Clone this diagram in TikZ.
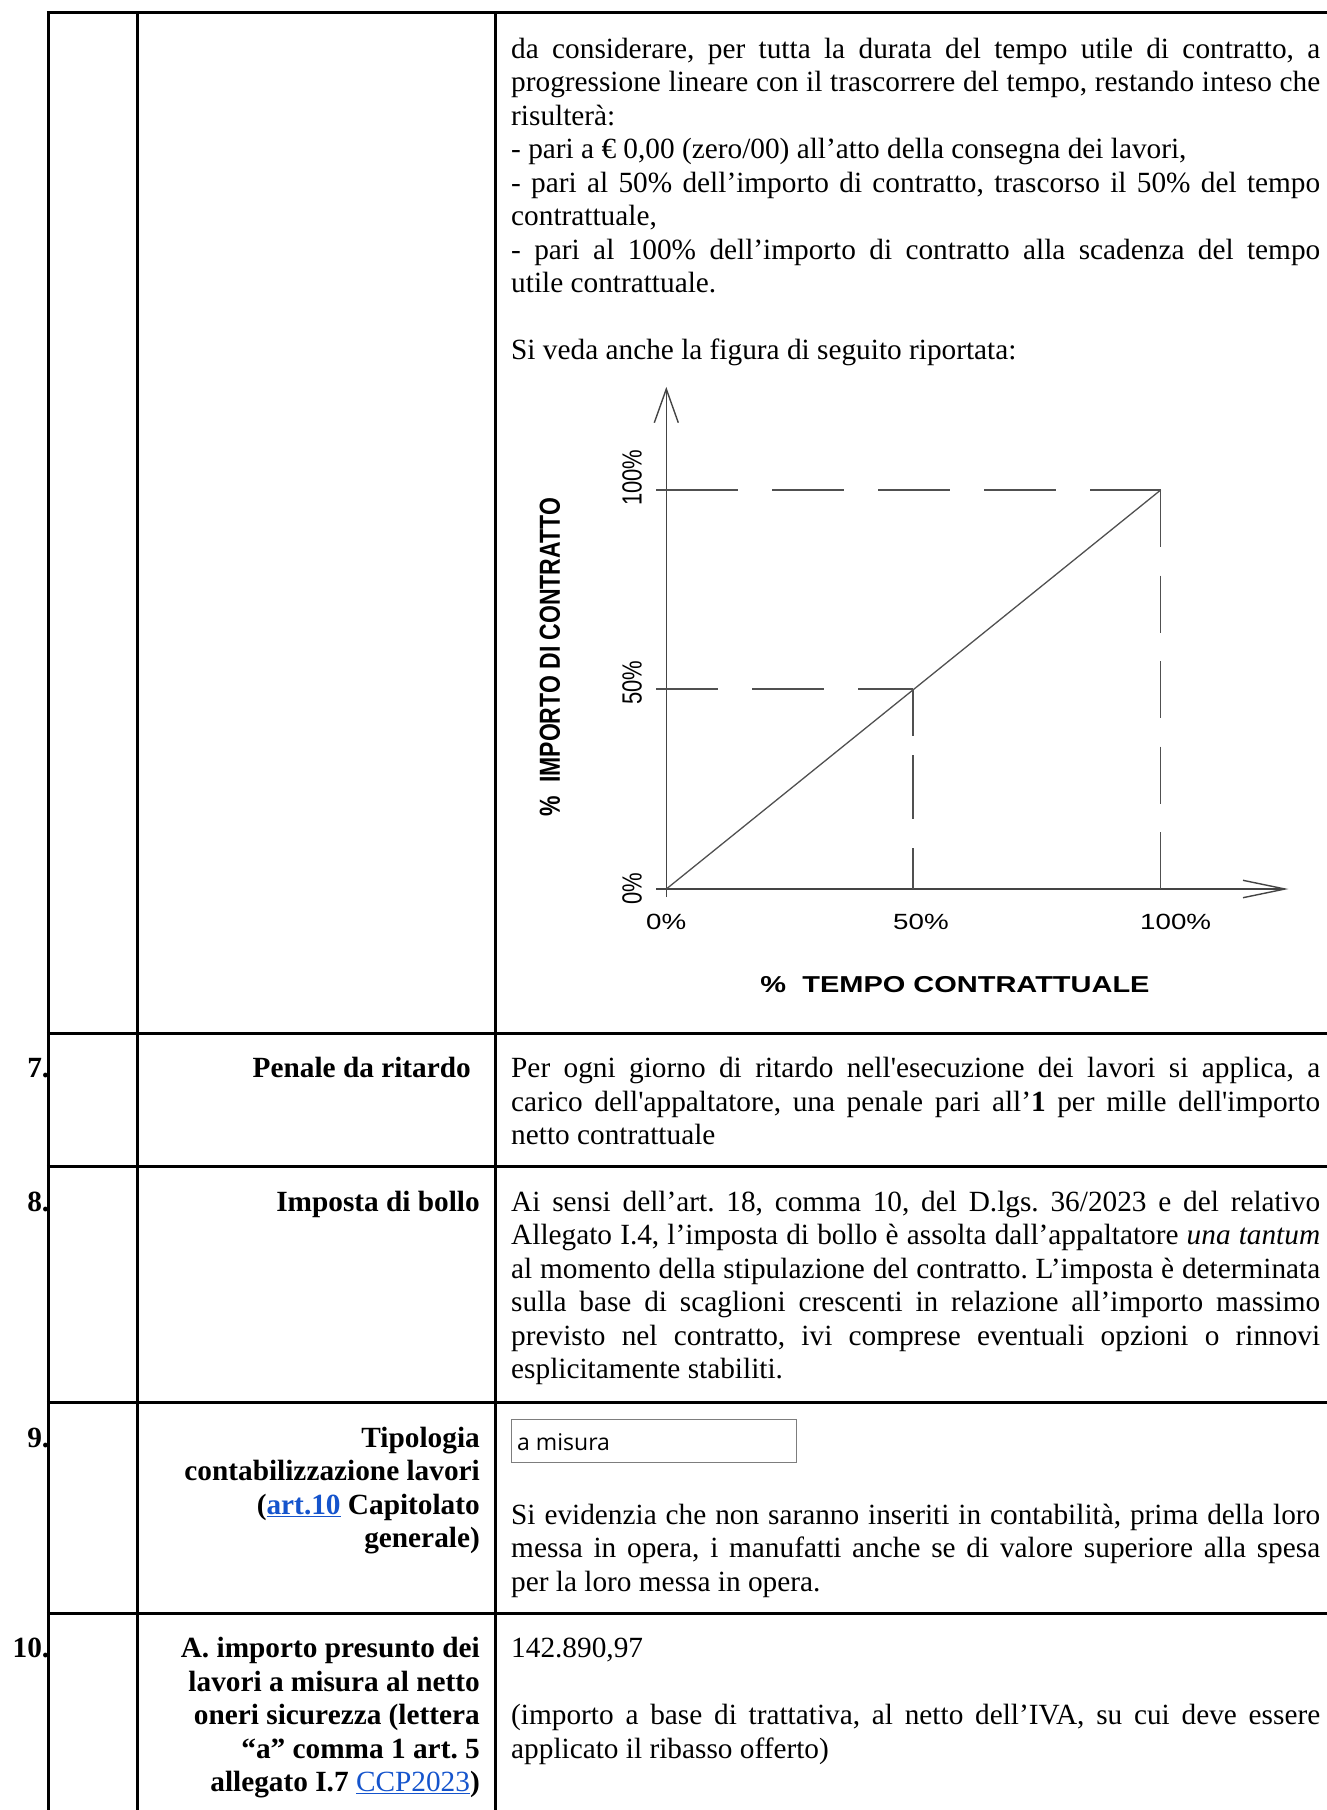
\documentclass[tikz,border=0pt]{standalone}
\usepackage{fontspec}
\usepackage{graphicx}
\setmainfont{Liberation Serif}[Ligatures=TeXOff]
\newfontfamily\chartfont{Liberation Sans}
\newfontfamily\boxfont{Open Sans}
\setlength{\parindent}{0pt}
\frenchspacing
\definecolor{linkblue}{RGB}{21,84,204}
\definecolor{chartline}{RGB}{80,80,80}
\definecolor{boxgray}{RGB}{125,125,125}
\newcommand{\mainfs}{\fontsize{29.3}{33.5}\selectfont}
\newcommand{\jl}[1]{\makebox[809pt][s]{#1}}
\newcommand{\lnk}[1]{\textcolor{linkblue}{\underline{#1}}}
\newcommand{\fst}{\spaceskip=0pt\xspaceskip=0pt\relax\rule{0pt}{25pt}}
\newcommand{\fsh}{\spaceskip=\fontdimen2\font\xspaceskip=\fontdimen2\font\relax\rule{0pt}{25pt}}
\begin{document}
\begin{tikzpicture}[x=1pt,y=-1pt,
  grid/.style={line width=3pt,black},
  body/.style={anchor=north west,inner sep=0pt,text width=809pt,align=left,font=\mainfs},
  head/.style={anchor=north east,inner sep=0pt,text width=400pt,align=right,font=\mainfs\bfseries},
  num/.style={anchor=base east,inner sep=0pt,font=\mainfs\bfseries},
  axis/.style={line width=1.4pt,chartline!85!black},
  chart/.style={line width=1.3pt,chartline},
  ylab/.style={anchor=base west,rotate=90,inner sep=0pt,font=\chartfont\fontsize{22}{26}\selectfont},
  xlab/.style={anchor=base west,inner sep=0pt,font=\chartfont\fontsize{22}{26}\selectfont},
  ttl/.style={anchor=center,inner sep=0pt,font=\chartfont\bfseries\fontsize{23}{27}\selectfont}]
\useasboundingbox (0,0) rectangle (1327,1810);

% ---------- row 6 (continuation) ----------
\node[body] (r6) at (511,33) {\fst\jl{da considerare, per tutta la durata del tempo utile di contratto, a}\\
\jl{progressione lineare con il trascorrere del tempo, restando inteso che}\\
risulterà:\\
- pari a € 0,00 (zero/00) all’atto della consegna dei lavori,\\
\jl{- pari al 50\% dell’importo di contratto, trascorso il 50\% del tempo}\\
contrattuale,\\
\jl{- pari al 100\% dell’importo di contratto alla scadenza del tempo}\\
utile contrattuale.\\[33.5pt]
Si veda anche la figura di seguito riportata:};

% ---------- chart ----------
\coordinate (O) at (666.3,889);
\coordinate (P100) at (1160.7,490);
\coordinate (P50) at (913,689);
\coordinate (Y100) at (666.3,490);
\coordinate (Y50) at (666.3,689);
\coordinate (X100) at (1160.7,889);
\coordinate (X50) at (913,889);
\coordinate (Ytip) at (666.3,389);
\coordinate (Xtip) at (1285,889);
\draw[axis] (666.3,897) -- (Ytip);
\draw[axis] (654.3,422.7) -- (Ytip) -- (678.3,422.7);
\draw[axis] (656,889) -- (Xtip);
\draw[axis] (1243,880.3) -- (Xtip) -- (1243,897.7);
\draw[chart] (O) -- (P100);
\draw[chart] (656,490) -- (Y100);
\draw[chart,dash pattern=on 72pt off 34pt] (Y100) -- (P100);
\draw[chart] (656,689) -- (Y50);
\draw[chart,dash pattern=on 72pt off 34pt,dash phase=20pt] (Y50) -- (P50);
\draw[chart,dash pattern=on 57pt off 28.5pt] (P100) -- (X100);
\draw[chart,dash pattern=on 47pt off 19pt on 64pt off 29pt on 60pt off 10pt] (P50) -- (X50);

\node[ylab] (ly100) at (641.7,506) {\scalebox{1}[1.26]{100\%}};
\node[ylab] (ly50) at (641.7,705) {\scalebox{1}[1.26]{50\%}};
\node[ylab] (ly0) at (641.7,905) {\scalebox{1}[1.26]{0\%}};
\node[xlab] (lx0) at (646,929) {\scalebox{1.26}[1]{0\%}};
\node[xlab] (lx50) at (893,929) {\scalebox{1.26}[1]{50\%}};
\node[xlab] (lx100) at (1140,929) {\scalebox{1.26}[1]{100\%}};
\node[ttl,rotate=90] (ytitle) at (550,657) {\scalebox{1}[1.26]{\%\ \ IMPORTO DI CONTRATTO}};
\node[ttl] (xtitle) at (955,985) {\scalebox{1.26}[1]{\%\ \ TEMPO CONTRATTUALE}};

% ---------- row 7 ----------
\node[num] (n7) at (49.5,1077.3) {7.};
\node[head] (h7) at (471,1052.3) {\fsh Penale da ritardo};
\node[body] (r7) at (511,1052.3) {\fst\jl{Per ogni giorno di ritardo nell'esecuzione dei lavori si applica, a}\\
\jl{carico dell'appaltatore, una penale pari all’\textbf{1} per mille dell'importo}\\
netto contrattuale};

% ---------- row 8 ----------
\node[num] (n8) at (49.5,1211) {8.};
\node[head] (h8) at (480,1186) {\fsh Imposta di bollo};
\node[body] (r8) at (511,1186) {\fst\jl{Ai sensi dell’art. 18, comma 10, del D.lgs. 36/2023 e del relativo}\\
\jl{Allegato I.4, l’imposta di bollo è assolta dall’appaltatore \textit{una tantum}}\\
\jl{al momento della stipulazione del contratto. L’imposta è determinata}\\
\jl{sulla base di scaglioni crescenti in relazione all’importo massimo}\\
\jl{previsto nel contratto, ivi comprese eventuali opzioni o rinnovi}\\
esplicitamente stabiliti.};

% ---------- row 9 ----------
\node[num] (n9) at (49.5,1447) {9.};
\node[head] (h9) at (480,1422) {\fsh Tipologia\\
contabilizzazione lavori\\
(\lnk{art.10} Capitolato\\
generale)};
\node[draw=boxgray,line width=1.3pt,anchor=north west,inner sep=0pt,minimum width=285pt,minimum height=43pt] (box9) at (511,1419) {};
\node[anchor=base west,inner sep=0pt,font=\boxfont\fontsize{23}{27}\selectfont] (box9t) at (517,1450) {a misura};
\node[body] (r9) at (511,1499) {\fst\jl{Si evidenzia che non saranno inseriti in contabilità, prima della loro}\\
\jl{messa in opera, i manufatti anche se di valore superiore alla spesa}\\
per la loro messa in opera.};

% ---------- row 10 ----------
\node[num] (n10) at (49.5,1657.5) {10.};
\node[head] (h10) at (480,1632.5) {\fsh A. importo presunto dei\\
lavori a misura al netto\\
oneri sicurezza (lettera\\
“a” comma 1 art. 5\\
allegato I.7 \lnk{\mdseries CCP2023})};
\node[body] (r10) at (511,1632.5) {\fst 142.890,97\\[33.5pt]
\jl{(importo a base di trattativa, al netto dell’IVA, su cui deve essere}\\
applicato il ribasso offerto)};

% ---------- table grid ----------
\draw[grid] (46.8,12.7) -- (1332,12.7);
\draw[grid] (46.8,1033.3) -- (1332,1033.3);
\draw[grid] (46.8,1166.6) -- (1332,1166.6);
\draw[grid] (46.8,1402.7) -- (1332,1402.7);
\draw[grid] (46.8,1613.2) -- (1332,1613.2);
\draw[grid] (48.3,11.2) -- (48.3,1815);
\draw[grid] (137.7,11.2) -- (137.7,1815);
\draw[grid] (495.7,11.2) -- (495.7,1815);
\end{tikzpicture}
\end{document}
